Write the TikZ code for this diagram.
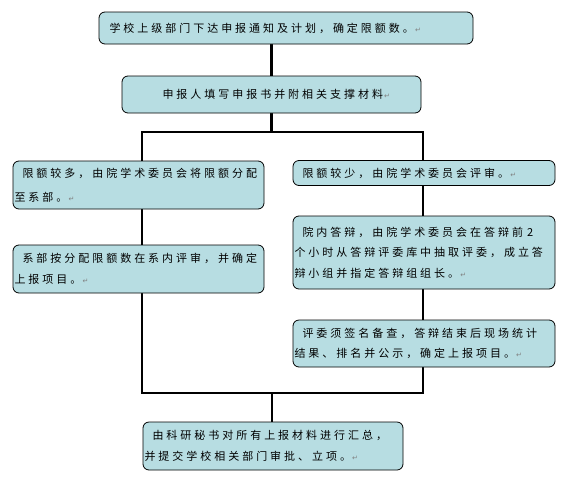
\documentclass[tikz,border=0pt]{standalone}
\usepackage{fontspec}
\usetikzlibrary{backgrounds}
\newfontfamily\cjk[LetterSpace=27]{Noto Sans CJK SC}
\newfontfamily\dvs{DejaVu Sans}
\definecolor{boxfill}{RGB}{183,221,226}
\newcommand{\pmark}{{\dvs\color{gray}\fontsize{7}{7}\selectfont\,↵}}
\begin{document}
\begin{tikzpicture}[x=1pt,y=-1pt,
  box/.style={draw=black, line width=0.8pt, fill=boxfill, rounded corners=6pt,
    inner xsep=1.5pt, inner ysep=0pt, align=left,
    font=\cjk\fontsize{11}{20.5}\selectfont},
  conn/.style={line width=2.6pt, line join=miter}]
\useasboundingbox (0,0) rectangle (578,477);

\node[box, minimum width=374pt, text width=371pt, minimum height=32pt] (b1) at (286,28)
  {\hspace*{9pt}学校上级部门下达申报通知及计划，确定限额数。\pmark};
\node[box, minimum width=299pt, text width=296pt, minimum height=37pt] (b2) at (271.5,94.5)
  {\hspace*{39pt}申报人填写申报书并附相关支撑材料\pmark};
\node[box, minimum width=251pt, text width=248pt, minimum height=48pt,
  font=\cjk\fontsize{11}{24}\selectfont] (b3) at (138.5,185)
  {\hspace*{8pt}限额较多，由院学术委员会将限额分配\\至系部。\pmark};
\node[box, minimum width=262pt, text width=259pt, minimum height=25pt] (b4) at (424,173)
  {\hspace*{8pt}限额较少，由院学术委员会评审。\pmark};
\node[box, minimum width=251pt, text width=248pt, minimum height=48pt] (b5) at (138.5,269)
  {\hspace*{8pt}系部按分配限额数在系内评审，并确定\\上报项目。\pmark};
\node[box, minimum width=262pt, text width=259pt, minimum height=73pt] (b6) at (424,252.5)
  {\hspace*{8pt}院内答辩，由院学术委员会在答辩前\hspace{4pt}2\\个小时从答辩评委库中抽取评委，成立答\\辩小组并指定答辩组组长。\pmark};
\node[box, minimum width=262pt, text width=259pt, minimum height=47pt] (b7) at (424,343.5)
  {\hspace*{8pt}评委须签名备查，答辩结束后现场统计\\结果、排名并公示，确定上报项目。\pmark};
\node[box, minimum width=260pt, text width=257pt, minimum height=48pt] (b8) at (273,446)
  {\hspace*{8pt}由科研秘书对所有上报材料进行汇总，\\并提交学校相关部门审批、立项。\pmark};

\coordinate (jl) at (142,132);
\coordinate (jr) at (423,132);
\coordinate (bl) at (142,393);
\coordinate (br) at (423,393);
\coordinate (bm) at (272,393);

\begin{scope}[on background layer]
\draw[conn] (b2.north |- b1.south) -- (b2.north);
\draw[conn] (b2.south) -- (b2.south |- jl);
\draw[conn] (jl |- b3.north) -- (jl) -- (jr) -- (jr |- b4.north);
\draw[conn] (jr |- b4.south) -- (jr |- b6.north);
\draw[conn] (jr |- b6.south) -- (jr |- b7.north);
\draw[conn] (jl |- b3.south) -- (jl |- b5.north);
\draw[conn] (jl |- b5.south) -- (bl) -- (br) -- (jr |- b7.south);
\draw[conn] (bm) -- (bm |- b8.north);
\end{scope}
\end{tikzpicture}
\end{document}
